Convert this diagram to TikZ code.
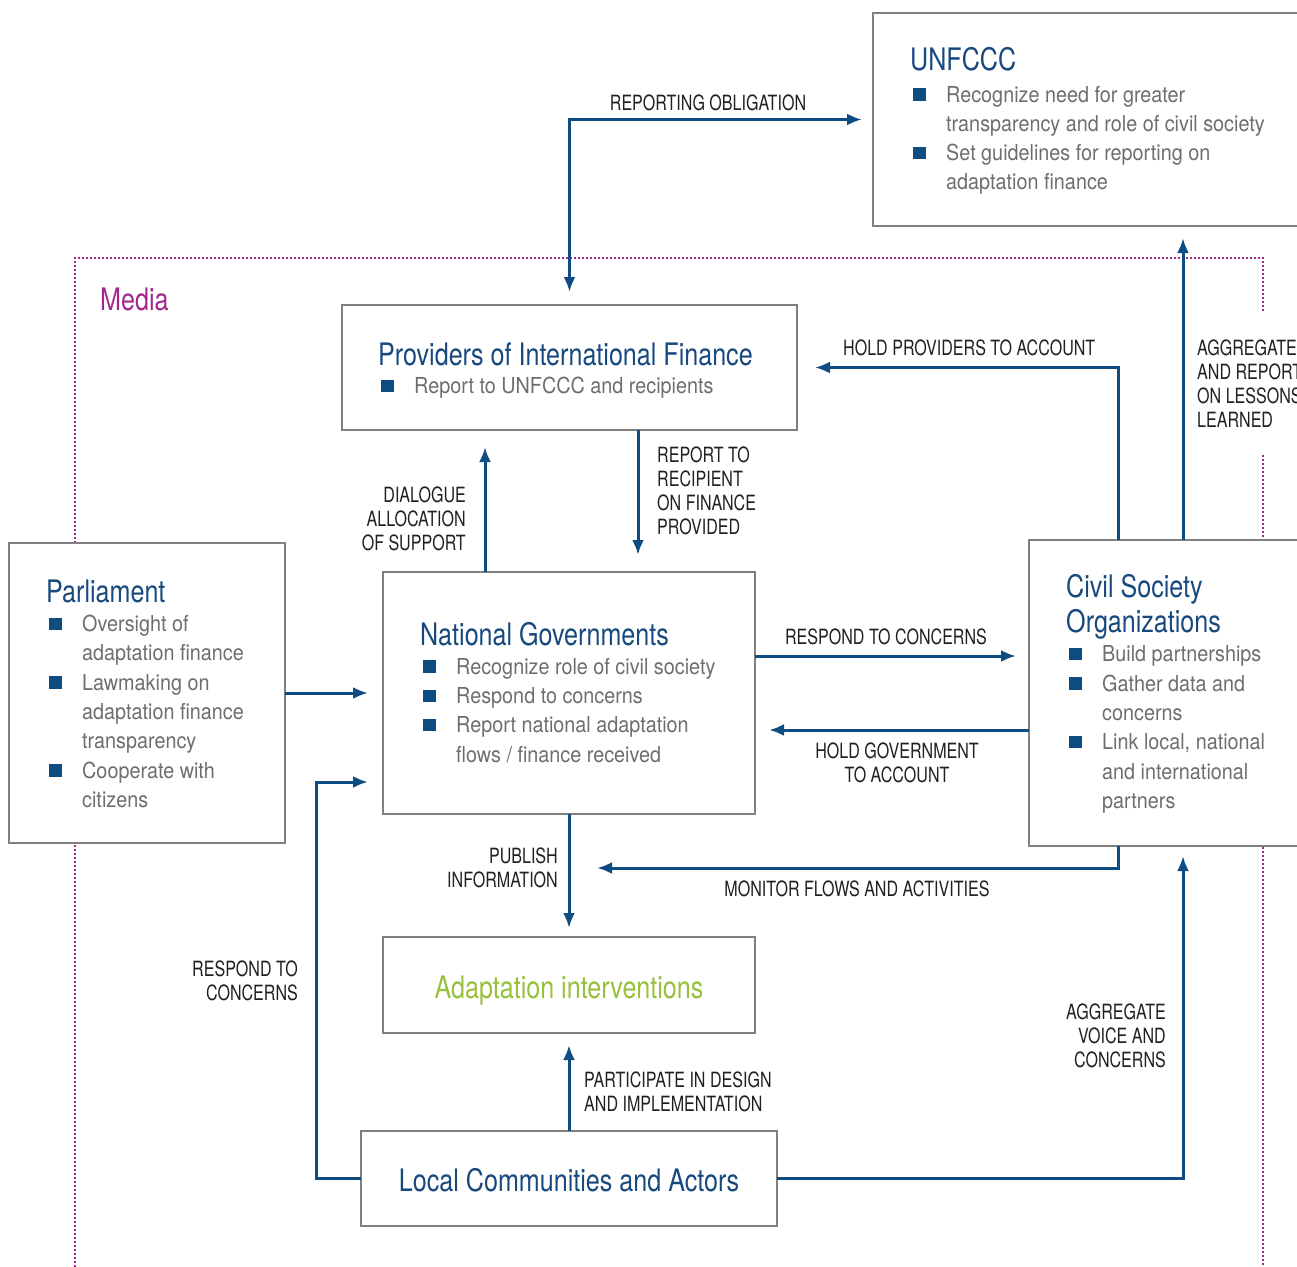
\documentclass[tikz,border=0pt]{standalone}
\usepackage{fontspec}
\setmainfont{TeX Gyre Heros}
\newfontfamily\ttlfnt[FakeStretch=0.81]{TeX Gyre Heros}
\newfontfamily\bodyfnt[FakeStretch=0.9]{TeX Gyre Heros}
\newfontfamily\lblfnt[FakeStretch=0.765]{TeX Gyre Heros}
\usetikzlibrary{arrows.meta,positioning}

\definecolor{navy}{HTML}{0F4C81}
\definecolor{ttlblue}{HTML}{17497F}
\definecolor{txtgray}{HTML}{6D6E71}
\definecolor{boxgray}{HTML}{808080}
\definecolor{mediapink}{HTML}{A2288F}
\definecolor{leafgreen}{HTML}{97C13C}
\definecolor{lbldark}{HTML}{231F20}

\newcommand{\bsq}{\textcolor{navy}{\raisebox{1.5pt}{\rule{13pt}{12.5pt}}}}
\newcommand{\itm}{\makebox[33pt][l]{\bsq}}
\newcommand{\cnt}{\hspace*{33pt}}

\begin{document}
\begin{tikzpicture}[x=1pt,y=-1pt,>={Latex[length=15pt,width=12pt]},
  box/.style={draw=boxgray,line width=1.3pt,fill=white,anchor=north west,inner sep=0pt,outer sep=0pt},
  title text/.style={anchor=base west,inner sep=0pt,text=ttlblue,font=\ttlfnt\fontsize{31}{35}\selectfont},
  item list/.style={anchor=north west,inner sep=0pt,align=left,text=txtgray,font=\bodyfnt\fontsize{22}{29.3}\selectfont},
  label text/.style={inner sep=0pt,text=lbldark,font=\lblfnt\fontsize{21}{24}\selectfont},
  flow/.style={->,draw=navy,line width=3pt},
  media line/.style={draw=mediapink,line width=1.2pt,dash pattern=on 2pt off 2pt}]
   \useasboundingbox (0,0) rectangle (1297,1266);

   % media frame
   \draw[media line] (75,1275) |- (1263,258) -- (1263,312);
   \draw[media line] (1263,455) -- (1263,1275);
   \node[title text,text=mediapink] (mediaT) at (100,310) {Media};

   % boxes
   \node[box,minimum width=437pt,minimum height=213pt] (unf)   at (873,13)   {};
   \node[box,minimum width=455pt,minimum height=125pt] (prov)  at (342,305)  {};
   \node[box,minimum width=276pt,minimum height=300pt] (parl)  at (9,543)    {};
   \node[box,minimum width=372pt,minimum height=242pt] (ng)    at (383,572)  {};
   \node[box,minimum width=281pt,minimum height=306pt] (cso)   at (1029,540) {};
   \node[box,minimum width=372pt,minimum height=96pt]  (adapt) at (383,937)  {};
   \node[box,minimum width=416pt,minimum height=95pt]  (loc)   at (361,1131) {};

   % box texts
   \node[title text] (unfT) at (910,70) {UNFCCC};
   \node[item list]  (unfL) at (913,85.7)
     {\itm Recognize need for greater\\\cnt transparency and role of civil society\\
      \itm Set guidelines for reporting on\\\cnt adaptation finance};
   \node[title text] (provT) at (378,365) {Providers of International Finance};
   \node[item list]  (provL) at (381,377) {\itm Report to UNFCCC and recipients};
   \node[title text] (parlT) at (46,602) {Parliament};
   \node[item list]  (parlL) at (49,615)
     {\itm Oversight of\\\cnt adaptation finance\\
      \itm Lawmaking on\\\cnt adaptation finance\\\cnt transparency\\
      \itm Cooperate with\\\cnt citizens};
   \node[title text] (ngT) at (420,645) {National Governments};
   \node[item list]  (ngL) at (423,658)
     {\itm Recognize role of civil society\\
      \itm Respond to concerns\\
      \itm Report national adaptation\\\cnt flows / finance received};
   \node[title text,anchor=north west,align=left] (csoT) at (1066,574.5)
     {Civil Society\\Organizations};
   \node[item list]  (csoL) at (1069,645.7)
     {\itm Build partnerships\\
      \itm Gather data and\\\cnt concerns\\
      \itm Link local, national\\\cnt and international\\\cnt partners};
   \node[title text,anchor=base,text=leafgreen] (adaptT) at (569,998) {Adaptation interventions};
   \node[title text,anchor=base] (locT) at (569,1191) {Local Communities and Actors};

   % connectors
   \draw[flow,<->,shorten <=13pt,shorten >=11pt] (prov.north) |- (unf.west);
   \draw[flow,shorten >=18pt] ([xshift=89pt]cso.north west) |- (prov.east);
   \draw[flow,shorten >=12pt] ([xshift=154pt]cso.north west) coordinate (agg) -- (agg |- unf.south);
   \draw[flow,shorten >=17pt] ([xshift=296pt]prov.south west) coordinate (rtr) -- (rtr |- ng.north);
   \draw[flow,shorten >=17pt] ([xshift=102pt]ng.north west) coordinate (dlg) -- (dlg |- prov.south);
   \draw[flow,shorten >=15pt] (parl.east) -- (ng.west);
   \coordinate (rcl) at (316,782);
   \draw[flow,shorten >=15pt] (loc.west) -| (rcl) -- (rcl -| ng.west);
   \draw[flow,shorten >=13pt] ([yshift=-84pt]ng.north east) coordinate (rsp) -- (rsp -| cso.west);
   \draw[flow,shorten >=14pt] ([yshift=-190pt]cso.north west) coordinate (hgv) -- (hgv -| ng.east);
   \draw[flow,shorten >=9pt] (ng.south) -- (adapt.north);
   \coordinate (mon) at (597,868);
   \draw[flow] ([xshift=89pt]cso.south west) |- (mon);
   \draw[flow,shorten >=12pt] (loc.north) -- (adapt.south);
   \draw[flow,shorten >=10pt] (loc.east) -| ([xshift=154pt]cso.south west);

   % connector labels
   \node[label text,anchor=base] (lRep) at (708,110) {REPORTING OBLIGATION};
   \node[label text,anchor=base west] (lHP) at (843,355) {HOLD PROVIDERS TO ACCOUNT};
   \node[label text,anchor=north west,align=left] (lAR) at (1197,340) {AGGREGATE\\AND REPORT\\ON LESSONS\\LEARNED};
   \node[label text,anchor=north west,align=left] (lRR) at (657,447) {REPORT TO\\RECIPIENT\\ON FINANCE\\PROVIDED};
   \node[label text,anchor=north east,align=right] (lDA) at (466,487) {DIALOGUE\\ALLOCATION\\OF SUPPORT};
   \node[label text,anchor=north east,align=right] (lRC) at (298,961) {RESPOND TO\\CONCERNS};
   \node[label text,anchor=base] (lRC2) at (886,644) {RESPOND TO CONCERNS};
   \node[label text,anchor=north,align=center] (lHG) at (897,743) {HOLD GOVERNMENT\\TO ACCOUNT};
   \node[label text,anchor=north east,align=right] (lPI) at (558,848) {PUBLISH\\INFORMATION};
   \node[label text,anchor=base] (lMF) at (857,896) {MONITOR FLOWS AND ACTIVITIES};
   \node[label text,anchor=north west,align=left] (lPD) at (584,1072) {PARTICIPATE IN DESIGN\\AND IMPLEMENTATION};
   \node[label text,anchor=north east,align=right] (lAV) at (1166,1004) {AGGREGATE\\VOICE AND\\CONCERNS};
\end{tikzpicture}
\end{document}
